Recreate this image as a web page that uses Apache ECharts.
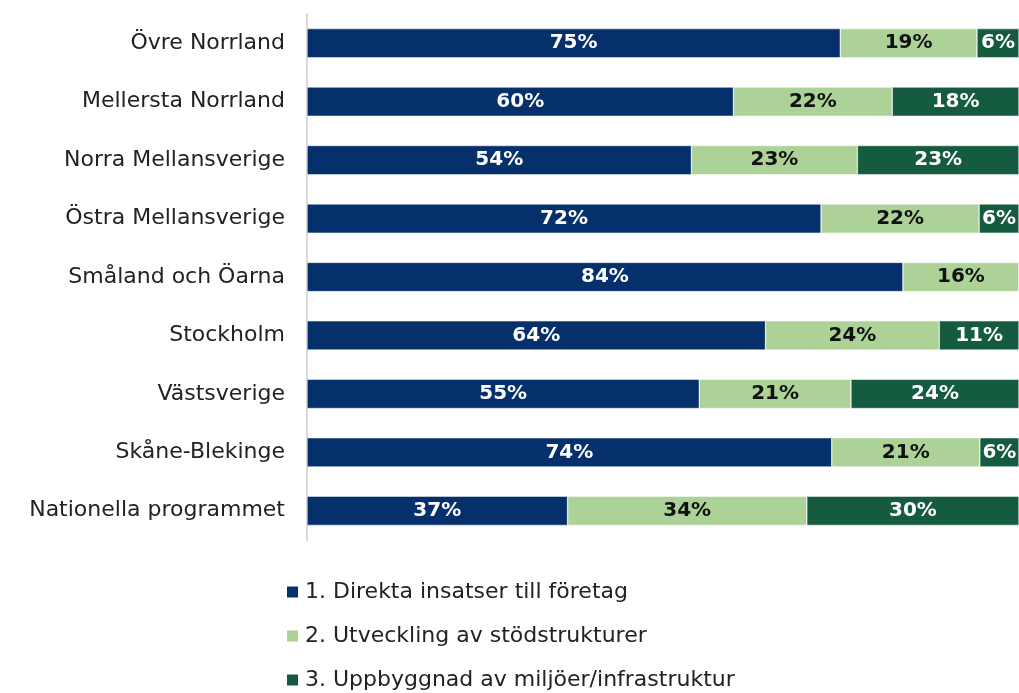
<!DOCTYPE html>
<html>
<head>
<meta charset="utf-8">
<script src="https://cdn.jsdelivr.net/npm/echarts@6/dist/echarts.min.js"></script>
<style>
  html, body { margin: 0; padding: 0; background: #fff; }
  #chart { width: 1019px; height: 693px; }
</style>
</head>
<body>
<div id="chart"></div>
<script>
// regions, top to bottom
const regions = ['Övre Norrland', 'Mellersta Norrland', 'Norra Mellansverige', 'Östra Mellansverige',
    'Småland och Öarna', 'Stockholm', 'Västsverige', 'Skåne-Blekinge', 'Nationella programmet'];
const seriesNames = ['1. Direkta insatser till företag', '2. Utveckling av stödstrukturer',
    '3. Uppbyggnad av miljöer/infrastruktur'];
// shares in percent
const direkta = [74.9, 59.9, 54.0, 72.2, 83.7, 64.4, 55.1, 73.7, 36.6];
const stod = [19.2, 22.3, 23.3, 22.2, 16.3, 24.4, 21.3, 20.8, 33.6];
const miljo = [5.9, 17.8, 22.7, 5.6, 0, 11.2, 23.6, 5.5, 29.8];
const colors = ['#06306b', '#add297', '#145b40'];
const labelColors = ['#fff', '#111', '#fff'];

const chart = echarts.init(document.getElementById('chart'));
const font = "'DejaVu Sans', sans-serif";

function makeSeries(name, values, i) {
    return {
        name: name,
        type: 'bar',
        stack: 'total',
        barWidth: '50%',
        data: values,
        itemStyle: { color: colors[i], borderColor: '#fff', borderWidth: 0.5 },
        label: {
            show: true,
            position: 'inside',
            color: labelColors[i],
            fontFamily: font,
            fontSize: 20,
            fontWeight: 'bold',
            formatter: p => p.value > 0 ? Math.round(p.value) + '%' : ''
        },
        emphasis: { disabled: true }
    };
}

chart.setOption({
    animation: false,
    color: colors,
    grid: { left: 307, right: 0, top: 14, bottom: 153 },
    xAxis: {
        type: 'value',
        min: 0,
        max: 100,
        show: false
    },
    yAxis: {
        type: 'category',
        inverse: true,
        data: regions,
        axisLine: { show: true, lineStyle: { color: '#d9d9d9', width: 2 } },
        axisTick: { show: false },
        axisLabel: { color: '#222', fontFamily: font, fontSize: 22, margin: 22 }
    },
    legend: {
        orient: 'vertical',
        left: 285,
        top: 581,
        padding: 0,
        itemWidth: 13,
        itemHeight: 13,
        itemGap: 22,
        icon: 'rect',
        selectedMode: false,
        textStyle: { color: '#222', fontFamily: font, fontSize: 22, lineHeight: 22, padding: [0, 0, 0, 1] },
        data: seriesNames
    },
    series: [
        makeSeries(seriesNames[0], direkta, 0),
        makeSeries(seriesNames[1], stod, 1),
        makeSeries(seriesNames[2], miljo, 2)
    ]
});
</script>
</body>
</html>
